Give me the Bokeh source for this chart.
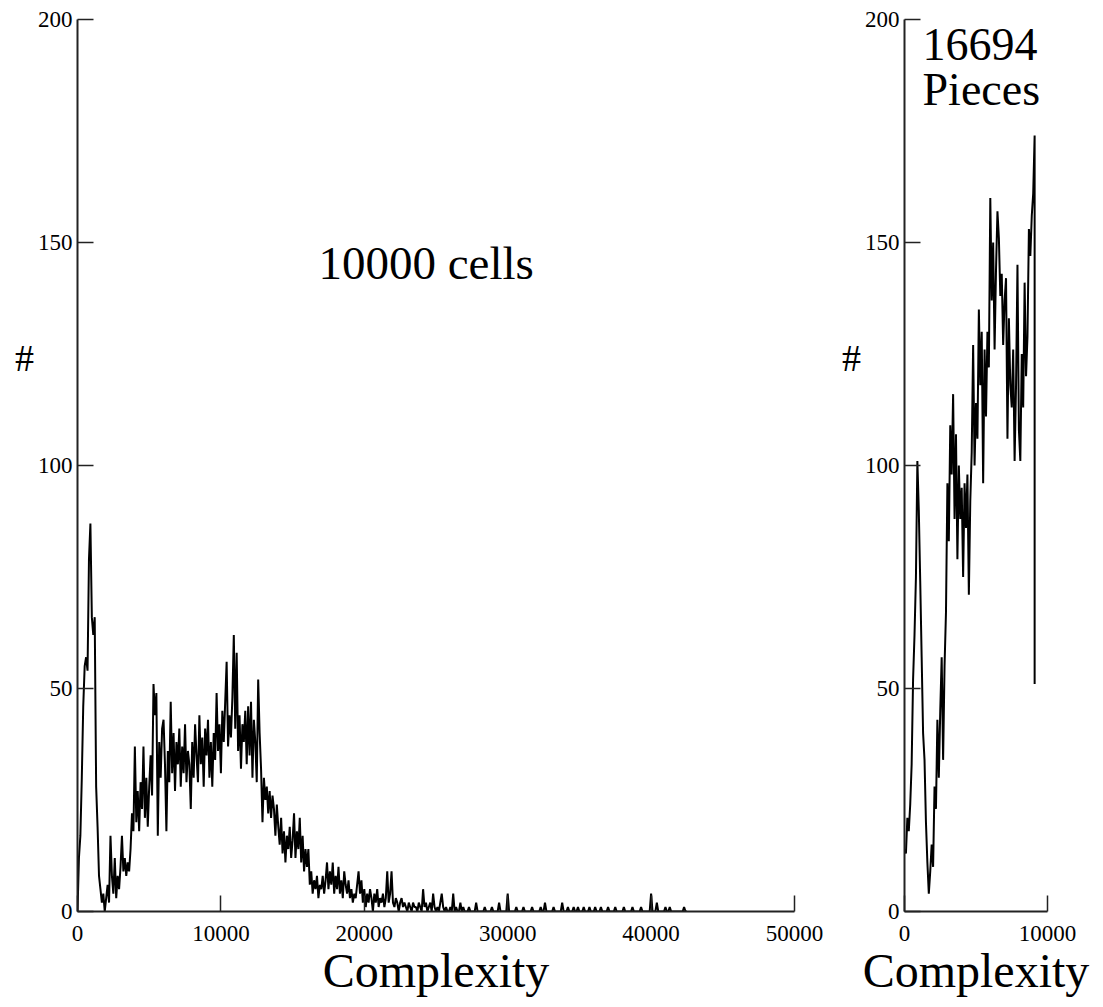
from bokeh.plotting import figure
from bokeh.layouts import row
from bokeh.models import Label, FixedTicker, Range1d
from bokeh.core.properties import value
from bokeh.embed import file_html
from bokeh.resources import INLINE

FONT = "Liberation Serif"

# ---------------- data ----------------
BIN_LEFT = 100
left_counts = [
    0, 12, 17, 30, 46, 55, 57, 54, 79, 87,
    66, 62, 66, 28, 19, 8, 5, 2, 4, 0,
    3, 6, 2, 17, 8, 4, 12, 3, 8, 5,
    10, 17, 9, 12, 8, 11, 9, 14, 22, 18,
    37, 20, 27, 18, 29, 23, 37, 21, 30, 19,
    28, 35, 26, 51, 44, 49, 17, 38, 30, 41,
    43, 33, 18, 36, 29, 47, 31, 40, 27, 38,
    33, 41, 28, 37, 31, 42, 29, 36, 33, 23,
    38, 30, 42, 35, 29, 44, 33, 39, 28, 41,
    35, 43, 30, 38, 28, 40, 34, 49, 36, 42,
    31, 45, 38, 47, 56, 37, 44, 39, 48, 62,
    41, 58, 36, 44, 32, 42, 38, 45, 33, 46,
    35, 47, 30, 43, 38, 29, 52, 40, 32, 20,
    30, 25, 28, 22, 27, 21, 26, 23, 17, 24,
    19, 15, 21, 13, 18, 11, 17, 14, 19, 12,
    16, 22, 12, 18, 14, 21, 11, 17, 9, 14,
    10, 14, 6, 9, 4, 7, 5, 8, 3, 6,
    5, 8, 4, 7, 11, 5, 9, 6, 11, 4,
    8, 5, 10, 4, 7, 3, 9, 6, 4, 7,
    3, 5, 2, 4, 3, 6, 9, 4, 7, 2,
    5, 1, 4, 2, 5, 3, 0, 4, 2, 5,
    1, 3, 2, 4, 1, 3, 9, 2, 4, 9,
    2, 1, 3, 2, 0, 2, 3, 1, 2, 1,
    0, 2, 1, 0, 2, 1, 1, 0, 2, 1,
    0, 5, 1, 2, 0, 1, 2, 0, 4, 1,
    0, 1, 0, 2, 4, 1, 0, 1, 0, 0,
    1, 0, 4, 0, 1, 0, 0, 2, 0, 1,
]
# sparse tail (non-zero bins only) beyond the dense list
tail_x = [27300, 27800, 28400, 28900, 29400, 30000, 30600, 31100, 31700, 32300,
          32600, 33200, 33800, 34200, 34600, 34900, 35300, 35700, 36100, 36500,
          37000, 37500, 38100, 38700, 39300, 40000, 40400, 41000, 41300, 42300]
tail_y = [1, 2, 1, 1, 2, 4, 1, 1, 1, 1,
          2, 1, 2, 1, 1, 1, 1, 1, 1, 1,
          1, 1, 1, 1, 1, 4, 2, 1, 1, 1]
LEFT_END = 42500

BIN_RIGHT = 100
right_counts = [
    14, 13, 21, 18, 24, 33, 52, 62, 75, 101,
    90, 74, 57, 40, 34, 20, 11, 4, 9, 15,
    10, 28, 23, 43, 30, 45, 57, 34, 55, 67,
    96, 83, 109, 98, 116, 88, 107, 79, 100, 88,
    95, 75, 96, 86, 98, 71, 92, 103, 127, 100,
    114, 106, 135, 118, 130, 96, 126, 111, 130, 122,
    160, 137, 150, 126, 144, 157, 151, 138, 143, 127,
    137, 142, 106, 133, 118, 113, 126, 101, 118, 145,
    108, 101, 125, 113, 141, 120, 129, 153, 147, 156,
    161, 174,
]
right_last = 51

left_xticks = [0, 10000, 20000, 30000, 40000, 50000]
right_xticks = [0, 10000]
yticks = [0, 50, 100, 150, 200]

# build left series
lx = [i * BIN_LEFT for i in range(len(left_counts))]
ly = list(left_counts)
tail = dict(zip(tail_x, tail_y))
x = len(left_counts) * BIN_LEFT
while x <= LEFT_END:
    lx.append(x)
    ly.append(tail.get(x, 0))
    x += BIN_LEFT

rx = [i * BIN_RIGHT for i in range(len(right_counts))]
ry = list(right_counts)
rx.append(rx[-1])
ry.append(right_last)

TOP = 19
FH = 892


def make_fig(xmax, xticks, fw, bl, br):
    p = figure(frame_width=fw, frame_height=FH,
               x_range=Range1d(0, xmax), y_range=Range1d(0, 200),
               output_backend="svg", toolbar_location=None,
               min_border_left=bl, min_border_right=br,
               min_border_top=TOP, min_border_bottom=60)
    p.outline_line_color = None
    p.grid.visible = False
    p.background_fill_color = "white"
    p.border_fill_color = "white"
    p.xaxis.ticker = FixedTicker(ticks=xticks)
    p.yaxis.ticker = FixedTicker(ticks=yticks)
    for ax in (p.xaxis[0], p.yaxis[0]):
        ax.major_tick_in = 16
        ax.major_tick_out = 0
        ax.minor_tick_in = 0
        ax.minor_tick_out = 0
        ax.axis_line_width = 2
        ax.axis_line_color = "#222222"
        ax.major_tick_line_width = 1.5
        ax.major_tick_line_color = "#222222"
        ax.major_label_text_font = FONT
        ax.major_label_text_font_size = "23px"
        ax.major_label_text_color = "black"
    p.yaxis.major_label_standoff = 5
    p.xaxis.major_label_standoff = 14
    p.xaxis.axis_label = "Complexity"
    p.xaxis.axis_label_text_font = FONT
    p.xaxis.axis_label_text_font_size = "48px"
    p.xaxis.axis_label_text_font_style = "normal"
    p.xaxis.axis_label_text_color = "black"
    p.xaxis.axis_label_standoff = 0
    return p


def hash_fig(fw, xc):
    q = figure(frame_width=fw, frame_height=FH,
               x_range=Range1d(0, fw), y_range=Range1d(0, 200),
               output_backend="svg", toolbar_location=None,
               x_axis_location=None, y_axis_location=None,
               min_border_left=0, min_border_right=0,
               min_border_top=TOP, min_border_bottom=0)
    q.outline_line_color = None
    q.grid.visible = False
    q.text(x=[xc], y=[124], text=["#"], text_font=value(FONT),
           text_font_size="38px", text_align="center",
           text_baseline="middle", text_color="black")
    return q


pA = hash_fig(34, 24)

p1 = make_fig(50000, left_xticks, 717, 43, 36)
p1.line(lx, ly, line_color="black", line_width=2.0)
p1.add_layout(Label(x=16806, y=145.5, text="10000 cells", text_font=FONT,
                    text_font_size="47px", text_align="left",
                    text_baseline="middle", text_color="black"))

pB = hash_fig(31, 21)

p2 = make_fig(10000, right_xticks, 143, 43, 45)
p2.line(rx, ry, line_color="black", line_width=2.0)
p2.add_layout(Label(x=1260, y=194.4, text="16694", text_font=FONT,
                    text_font_size="46px", text_align="left",
                    text_baseline="middle", text_color="black"))
p2.add_layout(Label(x=1260, y=184.2, text="Pieces", text_font=FONT,
                    text_font_size="46px", text_align="left",
                    text_baseline="middle", text_color="black"))

layout = row(pA, p1, pB, p2)
open("out.html", "w").write(file_html(layout, INLINE))
